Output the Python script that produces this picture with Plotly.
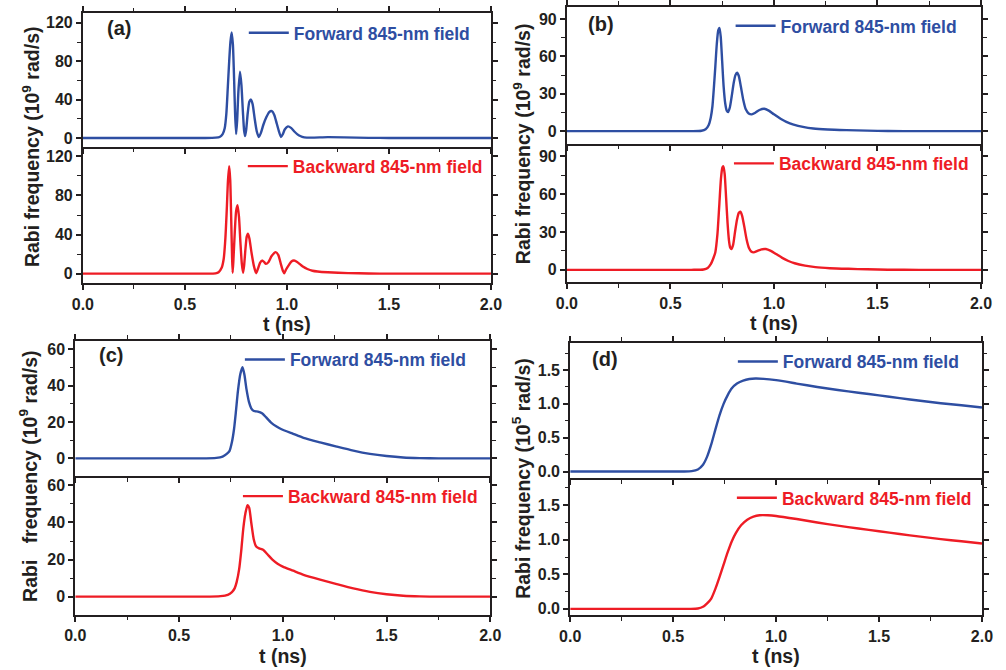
import plotly.graph_objects as go

# ---------------- data ----------------
# Panel (a) forward
t_a_fwd = [0.0, 0.60, 0.65, 0.67, 0.685, 0.695, 0.703, 0.710, 0.717, 0.723, 0.729, 0.735, 0.741, 0.746, 0.751,
           0.756, 0.762, 0.770, 0.777, 0.784, 0.790, 0.795, 0.800, 0.808, 0.816, 0.824, 0.832, 0.842, 0.852, 0.862,
           0.872, 0.885, 0.900, 0.913, 0.926, 0.938, 0.950, 0.962, 0.971, 0.980, 0.990, 1.005, 1.020, 1.035, 1.050,
           1.065, 1.085, 1.12, 1.20, 1.28, 1.40, 1.50, 2.0]
v_a_fwd = [0, 0, 0.3, 1, 4, 10, 25, 52, 80, 100, 110, 98, 62, 25, 4,
           18, 48, 69, 55, 28, 8, 2, 8, 26, 38, 40, 35, 20, 7, 1,
           5, 14, 22, 27, 28, 24, 15, 6, 1, 4, 9, 12, 10.5, 7, 4,
           2, 0.6, 0.3, 0.8, 0.6, 0.1, 0, 0]
# Panel (a) backward
t_a_bwd = [0.0, 0.60, 0.65, 0.665, 0.680, 0.690, 0.698, 0.705, 0.711, 0.717, 0.722, 0.727, 0.731, 0.734, 0.738,
           0.745, 0.751, 0.758, 0.765, 0.772, 0.779, 0.785, 0.790, 0.797, 0.803, 0.809, 0.816, 0.826, 0.838, 0.849,
           0.858, 0.868, 0.878, 0.888, 0.897, 0.910, 0.925, 0.945, 0.958, 0.970, 0.980, 0.987, 0.995, 1.010, 1.022,
           1.035, 1.050, 1.065, 1.080, 1.100, 1.125, 1.15, 1.20, 1.30, 1.40, 1.50, 2.0]
v_a_bwd = [0, 0, 0.3, 1.5, 6, 15, 35, 65, 95, 110, 96, 55, 18, 1, 15,
           45, 64, 70, 58, 32, 10, 1, 8, 26, 38, 41, 36, 22, 8, 0.5,
           5, 11, 13.4, 12, 10, 12, 18, 22, 19, 10, 3, 0.5, 4, 9, 12.5,
           13.4, 12, 9.5, 7, 4.8, 3, 2.2, 1.4, 0.6, 0.2, 0, 0]
# Panel (b) forward
t_b_fwd = [0.0, 0.60, 0.65, 0.67, 0.685, 0.695, 0.703, 0.710, 0.717, 0.724, 0.731, 0.737, 0.743, 0.750, 0.757,
           0.765, 0.772, 0.779, 0.787, 0.796, 0.806, 0.814, 0.822, 0.830, 0.840, 0.852, 0.864, 0.878, 0.893, 0.910,
           0.930, 0.953, 0.975, 1.000, 1.032, 1.06, 1.095, 1.14, 1.19, 1.26, 1.35, 1.45, 1.55, 1.7, 2.0]
v_b_fwd = [0, 0, 0.3, 1.5, 5, 11, 20, 35, 52, 70, 81, 83, 76, 56, 36,
           22, 16.5, 15.4, 19, 28, 39, 45, 47, 44.5, 36, 25, 17.5, 14.2, 13.5, 14.8,
           17, 18, 16.5, 13.5, 10, 7.5, 5.3, 3.4, 2.1, 1.3, 0.8, 0.4, 0.1, 0, 0]
# Panel (b) backward
t_b_bwd = [0.0, 0.60, 0.66, 0.68, 0.695, 0.707, 0.717, 0.727, 0.736, 0.744, 0.751, 0.756, 0.762, 0.769, 0.776,
           0.783, 0.789, 0.795, 0.803, 0.812, 0.822, 0.830, 0.838, 0.846, 0.856, 0.868, 0.880, 0.890, 0.902, 0.920,
           0.940, 0.961, 0.985, 1.010, 1.04, 1.07, 1.10, 1.15, 1.20, 1.27, 1.36, 1.45, 1.55, 1.7, 2.0]
v_b_bwd = [0, 0, 0.3, 1.5, 4.5, 9, 14, 28, 51, 72, 81, 82, 76, 57, 37,
           23, 17.5, 16.5, 20, 30, 40, 45, 46, 43, 35, 24, 17, 14.5, 13.8, 15,
           16.2, 16.5, 15, 12.5, 9.5, 7, 5.2, 3.3, 2.1, 1.3, 0.8, 0.4, 0.1, 0, 0]
# Panel (c) forward
t_c_fwd = [0.0, 0.60, 0.68, 0.71, 0.73, 0.743, 0.755, 0.765, 0.774, 0.784, 0.795, 0.806, 0.815, 0.825, 0.837,
           0.848, 0.861, 0.880, 0.900, 0.920, 0.945, 0.970, 0.994, 1.05, 1.10, 1.18, 1.26, 1.34, 1.42, 1.50,
           1.58, 1.66, 1.75, 2.0]
v_c_fwd = [0, 0, 0.3, 1, 2.5, 4, 9, 16, 25.5, 37, 46, 50, 46, 38, 31,
           27.5, 26, 25.7, 24.8, 22.5, 19.5, 17.5, 16, 13.5, 11.3, 8.8, 6.5, 4.3, 2.5, 1.3,
           0.5, 0.15, 0, 0]
# Panel (c) backward
t_c_bwd = [0.0, 0.62, 0.70, 0.735, 0.755, 0.768, 0.778, 0.790, 0.800, 0.810, 0.820, 0.830, 0.838, 0.848, 0.860,
           0.872, 0.886, 0.905, 0.925, 0.950, 0.975, 1.000, 1.05, 1.10, 1.18, 1.26, 1.34, 1.42, 1.50, 1.58,
           1.66, 1.75, 2.0]
v_c_bwd = [0, 0, 0.3, 1, 2.5, 4.5, 8, 15, 25, 37, 45, 49.3, 48, 40, 31,
           27, 26, 25.3, 23, 20, 17.8, 16.2, 14, 11.8, 9.2, 6.8, 4.5, 2.6, 1.3, 0.5,
           0.15, 0, 0]
# Panel (d) forward (units of 1e5 rad/s)
t_d_fwd = [0.0, 0.55, 0.59, 0.62, 0.645, 0.665, 0.685, 0.705, 0.725, 0.745, 0.765, 0.785, 0.81, 0.84, 0.87,
           0.90, 0.94, 1.0, 1.1, 1.2, 1.3, 1.4, 1.5, 1.6, 1.7, 1.8, 1.9, 2.0]
v_d_fwd = [0, 0, 0.005, 0.03, 0.10, 0.22, 0.40, 0.62, 0.83, 1.00, 1.13, 1.23, 1.30, 1.345, 1.368,
           1.375, 1.370, 1.350, 1.30, 1.25, 1.205, 1.165, 1.125, 1.085, 1.045, 1.01, 0.98, 0.945]
# Panel (d) backward
t_d_bwd = [0.0, 0.58, 0.62, 0.645, 0.665, 0.685, 0.705, 0.725, 0.745, 0.765, 0.785, 0.805, 0.83, 0.86, 0.89,
           0.92, 0.96, 1.0, 1.1, 1.2, 1.3, 1.4, 1.5, 1.6, 1.7, 1.8, 1.9, 2.0]
v_d_bwd = [0, 0, 0.005, 0.03, 0.08, 0.15, 0.29, 0.46, 0.64, 0.82, 0.98, 1.10, 1.21, 1.29, 1.335,
           1.355, 1.355, 1.345, 1.30, 1.25, 1.205, 1.163, 1.123, 1.083, 1.045, 1.01, 0.978, 0.945]

panel_labels = ["(a)", "(b)", "(c)", "(d)"]
fwd_name = "Forward 845-nm field"
bwd_name = "Backward 845-nm field"
ytitles = ["Rabi frequency (10<sup>9</sup> rad/s)", "Rabi frequency (10<sup>9</sup> rad/s)",
           "Rabi   frequency (10<sup>9</sup> rad/s)", "Rabi frequency (10<sup>5</sup> rad/s)"]
xtitle = "t (ns)"

# ---------------- layout geometry ----------------
W, H = 1006, 670
BLUE = "#2E4EA2"
RED = "#EE1C25"
INK = "#231F20"
FONT = "Liberation Sans, Arial, sans-serif"
LW = 2

def px2x(p):
    return p / W

def py2y(p):
    return 1 - p / H

# per panel: x-left, x-right, y-top, y-mid, y-bottom (pixels)
panels = [
    (73.5, 490.7, 13.3, 147.0, 284.3),
    (568.3, 991.7, 6.7, 144.0, 283.3),
    (65.7, 490.0, 341.7, 477.7, 616.7),
    (571.7, 992.7, 344.0, 479.7, 617.3),
]
yranges = [([-9, 130], [-10, 130]), ([-10, 100], [-10, 100]), ([-9.8, 64.6], [-9.8, 64.9]), ([-0.1, 1.9], [-0.095, 1.89])]
ydticks = [40, 30, 20, 0.5]
ymdticks = [20, 15, 10, 0.25]
yfmt = ["d", "d", "d", ".1f"]

series = [
    (t_a_fwd, v_a_fwd, t_a_bwd, v_a_bwd),
    (t_b_fwd, v_b_fwd, t_b_bwd, v_b_bwd),
    (t_c_fwd, v_c_fwd, t_c_bwd, v_c_bwd),
    (t_d_fwd, v_d_fwd, t_d_bwd, v_d_bwd),
]
# legend line start (px) and y centre (px): top, bottom
legpos = [((249, 33), (248, 166.7)), ((746.7, 26), (745, 164)),
          ((245, 360.7), (243, 497.7)), ((749, 362.7), (748, 499.3))]
labelpos = [(110, 28), (603.5, 24), (102, 356.5), (607, 360)]
ytitle_x = [20, 522, 18, 522]

fig = go.Figure()
layout = dict(width=W, height=H, margin=dict(l=0, r=0, t=0, b=0),
              paper_bgcolor="white", plot_bgcolor="white",
              font=dict(family=FONT, color=INK), annotations=[])

tickfont = dict(family=FONT, size=16, color=INK, weight="bold")

idx = 0
for p in range(4):
    xl, xr, yt, ym, yb = panels[p]
    tf, vf, tb, vb = series[p]
    for half in range(2):
        idx += 1
        sfx = "" if idx == 1 else str(idx)
        is_top = half == 0
        t, v = (tf, vf) if is_top else (tb, vb)
        color = BLUE if is_top else RED
        name = fwd_name if is_top else bwd_name
        legname = "legend" + sfx
        fig.add_trace(go.Scatter(x=t, y=v, mode="lines", name=name,
                                 line=dict(color=color, width=2.4, shape="spline", smoothing=0.6),
                                 xaxis="x" + sfx, yaxis="y" + sfx, legend=legname, showlegend=True))
        # the shared border is drawn once, by the upper subplot's x axis
        ydom = [py2y(ym), py2y(yt)] if is_top else [py2y(yb), py2y(ym)]
        layout["xaxis" + sfx] = dict(domain=[px2x(xl), px2x(xr)], anchor="y" + sfx, range=[0, 2],
                                     dtick=0.5, tick0=0, tickformat=".1f", ticks="outside", ticklen=5,
                                     tickwidth=1.5, tickcolor=INK, showline=True, linecolor=INK, linewidth=LW,
                                     mirror="ticks" if is_top else False, showgrid=False, zeroline=False,
                                     showticklabels=not is_top, tickfont=tickfont,
                                     minor=dict(dtick=0.25, tick0=0, ticks="outside", ticklen=3.5,
                                                tickwidth=1.2, tickcolor=INK, showgrid=False))
        layout["yaxis" + sfx] = dict(domain=ydom, anchor="x" + sfx, range=yranges[p][half],
                                     dtick=ydticks[p], tick0=0, tickformat=yfmt[p], ticks="outside", ticklen=5,
                                     tickwidth=1.5, tickcolor=INK, showline=True, linecolor=INK, linewidth=LW,
                                     mirror="ticks", showgrid=False, zeroline=False, tickfont=tickfont,
                                     minor=dict(dtick=ymdticks[p], tick0=0, ticks="outside", ticklen=3.5,
                                                tickwidth=1.2, tickcolor=INK, showgrid=False))
        lx, ly = legpos[p][half]
        layout[legname] = dict(x=px2x(lx - 11), y=py2y(ly), xanchor="left", yanchor="middle",
                               bgcolor="rgba(0,0,0,0)", borderwidth=0, itemwidth=40,
                               font=dict(family=FONT, size=17.5, color=color, weight="bold"),
                               tracegroupgap=0, itemclick=False)
    # panel label
    lx, ly = labelpos[p]
    layout["annotations"].append(dict(text=panel_labels[p], x=px2x(lx), y=py2y(ly), xref="paper", yref="paper",
                                      showarrow=False, xanchor="center", yanchor="middle",
                                      font=dict(family=FONT, size=20, color=INK, weight="bold")))
    # y title
    layout["annotations"].append(dict(text=ytitles[p], x=px2x(ytitle_x[p]), y=py2y(ym), xref="paper", yref="paper",
                                      showarrow=False, textangle=-90, xanchor="center", yanchor="middle",
                                      font=dict(family=FONT, size=19.5, color=INK, weight="bold")))
    # x title
    layout["annotations"].append(dict(text=xtitle, x=px2x((xl + xr) / 2), y=py2y(yb + 41), xref="paper",
                                      yref="paper", showarrow=False, xanchor="center", yanchor="middle",
                                      font=dict(family=FONT, size=19.5, color=INK, weight="bold")))

fig.update_layout(**layout)
fig.write_html("out.html")
